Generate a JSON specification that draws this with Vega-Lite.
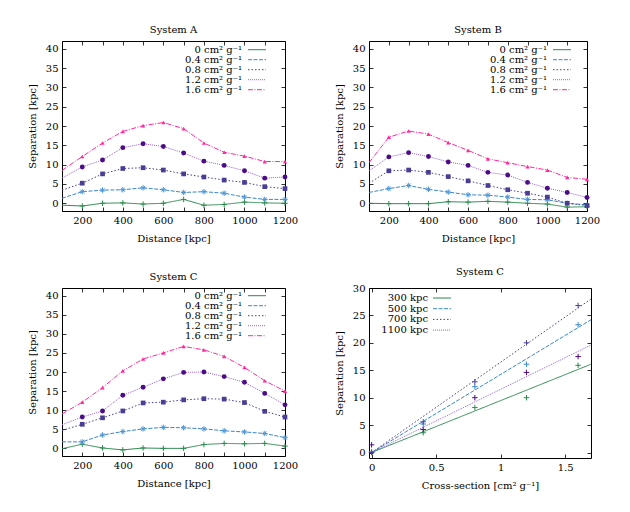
{
  "$schema": "https://vega.github.io/schema/vega-lite/v6.json",
  "padding": {"left": 26, "top": 24, "right": 5, "bottom": 5},
  "background": "white",
  "datasets": {
    "dist": [
      {"sys": "A", "cs": "0 cm² g⁻¹", "d": 100, "sep": -0.5},
      {"sys": "A", "cs": "0 cm² g⁻¹", "d": 200, "sep": -0.7},
      {"sys": "A", "cs": "0 cm² g⁻¹", "d": 300, "sep": 0.0},
      {"sys": "A", "cs": "0 cm² g⁻¹", "d": 400, "sep": 0.1},
      {"sys": "A", "cs": "0 cm² g⁻¹", "d": 500, "sep": -0.2},
      {"sys": "A", "cs": "0 cm² g⁻¹", "d": 600, "sep": 0.0},
      {"sys": "A", "cs": "0 cm² g⁻¹", "d": 700, "sep": 1.0},
      {"sys": "A", "cs": "0 cm² g⁻¹", "d": 800, "sep": -0.5},
      {"sys": "A", "cs": "0 cm² g⁻¹", "d": 900, "sep": -0.3},
      {"sys": "A", "cs": "0 cm² g⁻¹", "d": 1000, "sep": 0.3},
      {"sys": "A", "cs": "0 cm² g⁻¹", "d": 1100, "sep": 0.1},
      {"sys": "A", "cs": "0 cm² g⁻¹", "d": 1200, "sep": 0.0},
      {"sys": "A", "cs": "0.4 cm² g⁻¹", "d": 100, "sep": 1.3},
      {"sys": "A", "cs": "0.4 cm² g⁻¹", "d": 200, "sep": 3.0},
      {"sys": "A", "cs": "0.4 cm² g⁻¹", "d": 300, "sep": 3.4},
      {"sys": "A", "cs": "0.4 cm² g⁻¹", "d": 400, "sep": 3.5},
      {"sys": "A", "cs": "0.4 cm² g⁻¹", "d": 500, "sep": 4.0},
      {"sys": "A", "cs": "0.4 cm² g⁻¹", "d": 600, "sep": 3.5},
      {"sys": "A", "cs": "0.4 cm² g⁻¹", "d": 700, "sep": 2.8},
      {"sys": "A", "cs": "0.4 cm² g⁻¹", "d": 800, "sep": 3.0},
      {"sys": "A", "cs": "0.4 cm² g⁻¹", "d": 900, "sep": 2.6},
      {"sys": "A", "cs": "0.4 cm² g⁻¹", "d": 1000, "sep": 1.6},
      {"sys": "A", "cs": "0.4 cm² g⁻¹", "d": 1100, "sep": 1.0},
      {"sys": "A", "cs": "0.4 cm² g⁻¹", "d": 1200, "sep": 1.0},
      {"sys": "A", "cs": "0.8 cm² g⁻¹", "d": 100, "sep": 3.4},
      {"sys": "A", "cs": "0.8 cm² g⁻¹", "d": 200, "sep": 5.2},
      {"sys": "A", "cs": "0.8 cm² g⁻¹", "d": 300, "sep": 7.6},
      {"sys": "A", "cs": "0.8 cm² g⁻¹", "d": 400, "sep": 9.0},
      {"sys": "A", "cs": "0.8 cm² g⁻¹", "d": 500, "sep": 9.2},
      {"sys": "A", "cs": "0.8 cm² g⁻¹", "d": 600, "sep": 8.6},
      {"sys": "A", "cs": "0.8 cm² g⁻¹", "d": 700, "sep": 7.6},
      {"sys": "A", "cs": "0.8 cm² g⁻¹", "d": 800, "sep": 6.8},
      {"sys": "A", "cs": "0.8 cm² g⁻¹", "d": 900, "sep": 6.0},
      {"sys": "A", "cs": "0.8 cm² g⁻¹", "d": 1000, "sep": 5.4},
      {"sys": "A", "cs": "0.8 cm² g⁻¹", "d": 1100, "sep": 4.3},
      {"sys": "A", "cs": "0.8 cm² g⁻¹", "d": 1200, "sep": 3.8},
      {"sys": "A", "cs": "1.2 cm² g⁻¹", "d": 100, "sep": 6.5},
      {"sys": "A", "cs": "1.2 cm² g⁻¹", "d": 200, "sep": 9.4},
      {"sys": "A", "cs": "1.2 cm² g⁻¹", "d": 300, "sep": 11.2},
      {"sys": "A", "cs": "1.2 cm² g⁻¹", "d": 400, "sep": 14.4},
      {"sys": "A", "cs": "1.2 cm² g⁻¹", "d": 500, "sep": 15.4},
      {"sys": "A", "cs": "1.2 cm² g⁻¹", "d": 600, "sep": 14.7},
      {"sys": "A", "cs": "1.2 cm² g⁻¹", "d": 700, "sep": 13.0},
      {"sys": "A", "cs": "1.2 cm² g⁻¹", "d": 800, "sep": 10.9},
      {"sys": "A", "cs": "1.2 cm² g⁻¹", "d": 900, "sep": 9.8},
      {"sys": "A", "cs": "1.2 cm² g⁻¹", "d": 1000, "sep": 8.4},
      {"sys": "A", "cs": "1.2 cm² g⁻¹", "d": 1100, "sep": 6.5},
      {"sys": "A", "cs": "1.2 cm² g⁻¹", "d": 1200, "sep": 6.8},
      {"sys": "A", "cs": "1.6 cm² g⁻¹", "d": 100, "sep": 8.5},
      {"sys": "A", "cs": "1.6 cm² g⁻¹", "d": 200, "sep": 12.1},
      {"sys": "A", "cs": "1.6 cm² g⁻¹", "d": 300, "sep": 15.6},
      {"sys": "A", "cs": "1.6 cm² g⁻¹", "d": 400, "sep": 18.6},
      {"sys": "A", "cs": "1.6 cm² g⁻¹", "d": 500, "sep": 20.1},
      {"sys": "A", "cs": "1.6 cm² g⁻¹", "d": 600, "sep": 20.9},
      {"sys": "A", "cs": "1.6 cm² g⁻¹", "d": 700, "sep": 19.3},
      {"sys": "A", "cs": "1.6 cm² g⁻¹", "d": 800, "sep": 15.6},
      {"sys": "A", "cs": "1.6 cm² g⁻¹", "d": 900, "sep": 13.2},
      {"sys": "A", "cs": "1.6 cm² g⁻¹", "d": 1000, "sep": 12.2},
      {"sys": "A", "cs": "1.6 cm² g⁻¹", "d": 1100, "sep": 10.8},
      {"sys": "A", "cs": "1.6 cm² g⁻¹", "d": 1200, "sep": 10.8},

      {"sys": "B", "cs": "0 cm² g⁻¹", "d": 100, "sep": 0.0},
      {"sys": "B", "cs": "0 cm² g⁻¹", "d": 200, "sep": -0.1},
      {"sys": "B", "cs": "0 cm² g⁻¹", "d": 300, "sep": -0.1},
      {"sys": "B", "cs": "0 cm² g⁻¹", "d": 400, "sep": -0.1},
      {"sys": "B", "cs": "0 cm² g⁻¹", "d": 500, "sep": 0.4},
      {"sys": "B", "cs": "0 cm² g⁻¹", "d": 600, "sep": 0.3},
      {"sys": "B", "cs": "0 cm² g⁻¹", "d": 700, "sep": 0.5},
      {"sys": "B", "cs": "0 cm² g⁻¹", "d": 800, "sep": 0.3},
      {"sys": "B", "cs": "0 cm² g⁻¹", "d": 900, "sep": 0.0},
      {"sys": "B", "cs": "0 cm² g⁻¹", "d": 1000, "sep": -0.2},
      {"sys": "B", "cs": "0 cm² g⁻¹", "d": 1100, "sep": -1.0},
      {"sys": "B", "cs": "0 cm² g⁻¹", "d": 1200, "sep": -0.9},
      {"sys": "B", "cs": "0.4 cm² g⁻¹", "d": 100, "sep": 2.8},
      {"sys": "B", "cs": "0.4 cm² g⁻¹", "d": 200, "sep": 3.8},
      {"sys": "B", "cs": "0.4 cm² g⁻¹", "d": 300, "sep": 4.6},
      {"sys": "B", "cs": "0.4 cm² g⁻¹", "d": 400, "sep": 3.6},
      {"sys": "B", "cs": "0.4 cm² g⁻¹", "d": 500, "sep": 2.9},
      {"sys": "B", "cs": "0.4 cm² g⁻¹", "d": 600, "sep": 2.2},
      {"sys": "B", "cs": "0.4 cm² g⁻¹", "d": 700, "sep": 2.1},
      {"sys": "B", "cs": "0.4 cm² g⁻¹", "d": 800, "sep": 1.6},
      {"sys": "B", "cs": "0.4 cm² g⁻¹", "d": 900, "sep": 1.0},
      {"sys": "B", "cs": "0.4 cm² g⁻¹", "d": 1000, "sep": 0.9},
      {"sys": "B", "cs": "0.4 cm² g⁻¹", "d": 1100, "sep": 0.0},
      {"sys": "B", "cs": "0.4 cm² g⁻¹", "d": 1200, "sep": -0.4},
      {"sys": "B", "cs": "0.8 cm² g⁻¹", "d": 100, "sep": 5.2},
      {"sys": "B", "cs": "0.8 cm² g⁻¹", "d": 200, "sep": 8.4},
      {"sys": "B", "cs": "0.8 cm² g⁻¹", "d": 300, "sep": 8.6},
      {"sys": "B", "cs": "0.8 cm² g⁻¹", "d": 400, "sep": 8.0},
      {"sys": "B", "cs": "0.8 cm² g⁻¹", "d": 500, "sep": 6.9},
      {"sys": "B", "cs": "0.8 cm² g⁻¹", "d": 600, "sep": 5.8},
      {"sys": "B", "cs": "0.8 cm² g⁻¹", "d": 700, "sep": 4.6},
      {"sys": "B", "cs": "0.8 cm² g⁻¹", "d": 800, "sep": 3.5},
      {"sys": "B", "cs": "0.8 cm² g⁻¹", "d": 900, "sep": 2.6},
      {"sys": "B", "cs": "0.8 cm² g⁻¹", "d": 1000, "sep": 1.6},
      {"sys": "B", "cs": "0.8 cm² g⁻¹", "d": 1100, "sep": 0.0},
      {"sys": "B", "cs": "0.8 cm² g⁻¹", "d": 1200, "sep": -0.6},
      {"sys": "B", "cs": "1.2 cm² g⁻¹", "d": 100, "sep": 8.4},
      {"sys": "B", "cs": "1.2 cm² g⁻¹", "d": 200, "sep": 12.0},
      {"sys": "B", "cs": "1.2 cm² g⁻¹", "d": 300, "sep": 13.1},
      {"sys": "B", "cs": "1.2 cm² g⁻¹", "d": 400, "sep": 12.1},
      {"sys": "B", "cs": "1.2 cm² g⁻¹", "d": 500, "sep": 10.7},
      {"sys": "B", "cs": "1.2 cm² g⁻¹", "d": 600, "sep": 9.8},
      {"sys": "B", "cs": "1.2 cm² g⁻¹", "d": 700, "sep": 8.0},
      {"sys": "B", "cs": "1.2 cm² g⁻¹", "d": 800, "sep": 7.3},
      {"sys": "B", "cs": "1.2 cm² g⁻¹", "d": 900, "sep": 5.4},
      {"sys": "B", "cs": "1.2 cm² g⁻¹", "d": 1000, "sep": 3.9},
      {"sys": "B", "cs": "1.2 cm² g⁻¹", "d": 1100, "sep": 2.8},
      {"sys": "B", "cs": "1.2 cm² g⁻¹", "d": 1200, "sep": 1.5},
      {"sys": "B", "cs": "1.6 cm² g⁻¹", "d": 100, "sep": 10.5},
      {"sys": "B", "cs": "1.6 cm² g⁻¹", "d": 200, "sep": 17.1},
      {"sys": "B", "cs": "1.6 cm² g⁻¹", "d": 300, "sep": 18.7},
      {"sys": "B", "cs": "1.6 cm² g⁻¹", "d": 400, "sep": 17.9},
      {"sys": "B", "cs": "1.6 cm² g⁻¹", "d": 500, "sep": 15.7},
      {"sys": "B", "cs": "1.6 cm² g⁻¹", "d": 600, "sep": 13.7},
      {"sys": "B", "cs": "1.6 cm² g⁻¹", "d": 700, "sep": 11.5},
      {"sys": "B", "cs": "1.6 cm² g⁻¹", "d": 800, "sep": 10.5},
      {"sys": "B", "cs": "1.6 cm² g⁻¹", "d": 900, "sep": 9.5},
      {"sys": "B", "cs": "1.6 cm² g⁻¹", "d": 1000, "sep": 8.6},
      {"sys": "B", "cs": "1.6 cm² g⁻¹", "d": 1100, "sep": 6.7},
      {"sys": "B", "cs": "1.6 cm² g⁻¹", "d": 1200, "sep": 6.2},

      {"sys": "C", "cs": "0 cm² g⁻¹", "d": 100, "sep": -0.1},
      {"sys": "C", "cs": "0 cm² g⁻¹", "d": 200, "sep": 1.1},
      {"sys": "C", "cs": "0 cm² g⁻¹", "d": 300, "sep": 0.1},
      {"sys": "C", "cs": "0 cm² g⁻¹", "d": 400, "sep": -0.4},
      {"sys": "C", "cs": "0 cm² g⁻¹", "d": 500, "sep": 0.1},
      {"sys": "C", "cs": "0 cm² g⁻¹", "d": 600, "sep": 0.0},
      {"sys": "C", "cs": "0 cm² g⁻¹", "d": 700, "sep": 0.0},
      {"sys": "C", "cs": "0 cm² g⁻¹", "d": 800, "sep": 1.0},
      {"sys": "C", "cs": "0 cm² g⁻¹", "d": 900, "sep": 1.3},
      {"sys": "C", "cs": "0 cm² g⁻¹", "d": 1000, "sep": 1.2},
      {"sys": "C", "cs": "0 cm² g⁻¹", "d": 1100, "sep": 1.3},
      {"sys": "C", "cs": "0 cm² g⁻¹", "d": 1200, "sep": 0.6},
      {"sys": "C", "cs": "0.4 cm² g⁻¹", "d": 100, "sep": 1.7},
      {"sys": "C", "cs": "0.4 cm² g⁻¹", "d": 200, "sep": 1.7},
      {"sys": "C", "cs": "0.4 cm² g⁻¹", "d": 300, "sep": 3.5},
      {"sys": "C", "cs": "0.4 cm² g⁻¹", "d": 400, "sep": 4.4},
      {"sys": "C", "cs": "0.4 cm² g⁻¹", "d": 500, "sep": 5.1},
      {"sys": "C", "cs": "0.4 cm² g⁻¹", "d": 600, "sep": 5.5},
      {"sys": "C", "cs": "0.4 cm² g⁻¹", "d": 700, "sep": 5.4},
      {"sys": "C", "cs": "0.4 cm² g⁻¹", "d": 800, "sep": 5.1},
      {"sys": "C", "cs": "0.4 cm² g⁻¹", "d": 900, "sep": 4.6},
      {"sys": "C", "cs": "0.4 cm² g⁻¹", "d": 1000, "sep": 4.3},
      {"sys": "C", "cs": "0.4 cm² g⁻¹", "d": 1100, "sep": 3.9},
      {"sys": "C", "cs": "0.4 cm² g⁻¹", "d": 1200, "sep": 2.8},
      {"sys": "C", "cs": "0.8 cm² g⁻¹", "d": 100, "sep": 4.7},
      {"sys": "C", "cs": "0.8 cm² g⁻¹", "d": 200, "sep": 6.3},
      {"sys": "C", "cs": "0.8 cm² g⁻¹", "d": 300, "sep": 8.0},
      {"sys": "C", "cs": "0.8 cm² g⁻¹", "d": 400, "sep": 9.8},
      {"sys": "C", "cs": "0.8 cm² g⁻¹", "d": 500, "sep": 11.9},
      {"sys": "C", "cs": "0.8 cm² g⁻¹", "d": 600, "sep": 12.1},
      {"sys": "C", "cs": "0.8 cm² g⁻¹", "d": 700, "sep": 12.7},
      {"sys": "C", "cs": "0.8 cm² g⁻¹", "d": 800, "sep": 13.0},
      {"sys": "C", "cs": "0.8 cm² g⁻¹", "d": 900, "sep": 12.9},
      {"sys": "C", "cs": "0.8 cm² g⁻¹", "d": 1000, "sep": 12.0},
      {"sys": "C", "cs": "0.8 cm² g⁻¹", "d": 1100, "sep": 9.7},
      {"sys": "C", "cs": "0.8 cm² g⁻¹", "d": 1200, "sep": 8.2},
      {"sys": "C", "cs": "1.2 cm² g⁻¹", "d": 100, "sep": 6.2},
      {"sys": "C", "cs": "1.2 cm² g⁻¹", "d": 200, "sep": 8.2},
      {"sys": "C", "cs": "1.2 cm² g⁻¹", "d": 300, "sep": 9.8},
      {"sys": "C", "cs": "1.2 cm² g⁻¹", "d": 400, "sep": 13.9},
      {"sys": "C", "cs": "1.2 cm² g⁻¹", "d": 500, "sep": 16.0},
      {"sys": "C", "cs": "1.2 cm² g⁻¹", "d": 600, "sep": 18.2},
      {"sys": "C", "cs": "1.2 cm² g⁻¹", "d": 700, "sep": 19.9},
      {"sys": "C", "cs": "1.2 cm² g⁻¹", "d": 800, "sep": 20.0},
      {"sys": "C", "cs": "1.2 cm² g⁻¹", "d": 900, "sep": 18.8},
      {"sys": "C", "cs": "1.2 cm² g⁻¹", "d": 1000, "sep": 17.3},
      {"sys": "C", "cs": "1.2 cm² g⁻¹", "d": 1100, "sep": 14.4},
      {"sys": "C", "cs": "1.2 cm² g⁻¹", "d": 1200, "sep": 11.4},
      {"sys": "C", "cs": "1.6 cm² g⁻¹", "d": 100, "sep": 9.0},
      {"sys": "C", "cs": "1.6 cm² g⁻¹", "d": 200, "sep": 12.1},
      {"sys": "C", "cs": "1.6 cm² g⁻¹", "d": 300, "sep": 15.9},
      {"sys": "C", "cs": "1.6 cm² g⁻¹", "d": 400, "sep": 20.3},
      {"sys": "C", "cs": "1.6 cm² g⁻¹", "d": 500, "sep": 23.4},
      {"sys": "C", "cs": "1.6 cm² g⁻¹", "d": 600, "sep": 25.0},
      {"sys": "C", "cs": "1.6 cm² g⁻¹", "d": 700, "sep": 26.7},
      {"sys": "C", "cs": "1.6 cm² g⁻¹", "d": 800, "sep": 25.8},
      {"sys": "C", "cs": "1.6 cm² g⁻¹", "d": 900, "sep": 24.1},
      {"sys": "C", "cs": "1.6 cm² g⁻¹", "d": 1000, "sep": 21.2},
      {"sys": "C", "cs": "1.6 cm² g⁻¹", "d": 1100, "sep": 17.7},
      {"sys": "C", "cs": "1.6 cm² g⁻¹", "d": 1200, "sep": 15.0}
    ],
    "xsec": [
      {"dist": "300 kpc", "x": 0.0, "sep": 0.1},
      {"dist": "300 kpc", "x": 0.4, "sep": 3.6},
      {"dist": "300 kpc", "x": 0.8, "sep": 8.2},
      {"dist": "300 kpc", "x": 1.2, "sep": 10.0},
      {"dist": "300 kpc", "x": 1.6, "sep": 15.9},
      {"dist": "500 kpc", "x": 0.0, "sep": 0.1},
      {"dist": "500 kpc", "x": 0.4, "sep": 5.2},
      {"dist": "500 kpc", "x": 0.8, "sep": 12.0},
      {"dist": "500 kpc", "x": 1.2, "sep": 16.1},
      {"dist": "500 kpc", "x": 1.6, "sep": 23.3},
      {"dist": "700 kpc", "x": 0.0, "sep": 0.0},
      {"dist": "700 kpc", "x": 0.4, "sep": 5.6},
      {"dist": "700 kpc", "x": 0.8, "sep": 12.9},
      {"dist": "700 kpc", "x": 1.2, "sep": 20.0},
      {"dist": "700 kpc", "x": 1.6, "sep": 26.8},
      {"dist": "1100 kpc", "x": 0.0, "sep": 1.4},
      {"dist": "1100 kpc", "x": 0.4, "sep": 4.2},
      {"dist": "1100 kpc", "x": 0.8, "sep": 10.0},
      {"dist": "1100 kpc", "x": 1.2, "sep": 14.6},
      {"dist": "1100 kpc", "x": 1.6, "sep": 17.5}
    ],
    "fits": [
      {"dist": "300 kpc", "x": 0.0, "sep": 0.0},
      {"dist": "300 kpc", "x": 1.7, "sep": 16.1},
      {"dist": "500 kpc", "x": 0.0, "sep": 0.0},
      {"dist": "500 kpc", "x": 1.7, "sep": 24.2},
      {"dist": "700 kpc", "x": 0.0, "sep": 0.0},
      {"dist": "700 kpc", "x": 1.7, "sep": 28.0},
      {"dist": "1100 kpc", "x": 0.0, "sep": 0.0},
      {"dist": "1100 kpc", "x": 1.7, "sep": 19.6}
    ]
  },
  "columns": 2,
  "spacing": {"row": 77, "column": 84},
  "bounds": "flush",
  "concat": [
    {
      "width": 223, "height": 170,
      "title": "System A",
      "data": {"name": "dist"},
      "transform": [{"filter": "datum.sys === 'A'"}],
      "layer": [
        {
          "mark": {"type": "line", "strokeWidth": 1, "clip": true},
          "encoding": {
            "x": {"field": "d", "type": "quantitative", "scale": {"domain": [100, 1200], "nice": false},
              "axis": {"orient": "bottom", "title": "Distance [kpc]", "format": "d", "values": [100, 200, 300, 400, 500, 600, 700, 800, 900, 1000, 1100, 1200], "labelExpr": "datum.value % 200 === 0 ? datum.label : ''"}},
            "y": {"field": "sep", "type": "quantitative", "scale": {"domain": [-2, 42], "nice": false, "zero": false},
              "axis": {"orient": "left", "title": "Separation [kpc]", "values": [0, 5, 10, 15, 20, 25, 30, 35, 40]}},
            "stroke": {"field": "cs", "type": "nominal", "title": null,
              "scale": {"domain": ["0 cm² g⁻¹", "0.4 cm² g⁻¹", "0.8 cm² g⁻¹", "1.2 cm² g⁻¹", "1.6 cm² g⁻¹"], "range": ["#2b8a4e", "#3b88c8", "#4d3d96", "#9a62d0", "#ff2a9c"]},
              "legend": {"orient": "none", "legendX": 190, "legendY": 3.7}},
            "strokeDash": {"field": "cs", "type": "nominal", "title": null,
              "scale": {"domain": ["0 cm² g⁻¹", "0.4 cm² g⁻¹", "0.8 cm² g⁻¹", "1.2 cm² g⁻¹", "1.6 cm² g⁻¹"], "range": [[1, 0], [4, 1.5], [1.5, 2], [1, 1], [5, 1.5, 1, 1.5]]},
              "legend": {"orient": "none", "legendX": 190, "legendY": 3.7}}
          }
        },
        {
          "transform": [{"filter": "datum.d > 100 && datum.cs === '0 cm² g⁻¹'"}],
          "mark": {"type": "point", "shape": "M-1,0H1M0,-1V1", "filled": false, "color": "#2b8a4e", "size": 30, "strokeWidth": 1, "opacity": 1},
          "encoding": {
            "x": {"field": "d", "type": "quantitative", "scale": {"domain": [100, 1200], "nice": false}, "axis": {"orient": "top", "title": null, "labels": false, "values": [100, 200, 300, 400, 500, 600, 700, 800, 900, 1000, 1100, 1200]}},
            "y": {"field": "sep", "type": "quantitative", "scale": {"domain": [-2, 42], "nice": false, "zero": false}, "axis": {"orient": "right", "title": null, "labels": false, "values": [0, 5, 10, 15, 20, 25, 30, 35, 40]}}
          }
        },
        {
          "transform": [{"filter": "datum.d > 100 && datum.cs === '0.4 cm² g⁻¹'"}],
          "mark": {"type": "point", "shape": "M-1,0H1M0,-1V1M-0.7,-0.7L0.7,0.7M-0.7,0.7L0.7,-0.7", "filled": false, "color": "#4f98d6", "size": 30, "strokeWidth": 1, "opacity": 1},
          "encoding": {"x": {"field": "d", "type": "quantitative", "axis": null}, "y": {"field": "sep", "type": "quantitative", "axis": null}}
        },
        {
          "transform": [{"filter": "datum.d > 100 && datum.cs === '0.8 cm² g⁻¹'"}],
          "mark": {"type": "point", "shape": "square", "filled": true, "color": "#4a3d94", "size": 22, "opacity": 1},
          "encoding": {"x": {"field": "d", "type": "quantitative", "axis": null}, "y": {"field": "sep", "type": "quantitative", "axis": null}}
        },
        {
          "transform": [{"filter": "datum.d > 100 && datum.cs === '1.2 cm² g⁻¹'"}],
          "mark": {"type": "point", "shape": "circle", "filled": true, "color": "#4b0c86", "size": 24, "opacity": 1},
          "encoding": {"x": {"field": "d", "type": "quantitative", "axis": null}, "y": {"field": "sep", "type": "quantitative", "axis": null}}
        },
        {
          "transform": [{"filter": "datum.d > 100 && datum.cs === '1.6 cm² g⁻¹'"}],
          "mark": {"type": "point", "shape": "triangle-up", "filled": true, "color": "#ff2a9c", "size": 18, "opacity": 1},
          "encoding": {"x": {"field": "d", "type": "quantitative", "axis": null}, "y": {"field": "sep", "type": "quantitative", "axis": null}}
        }
      ],
      "resolve": {"axis": {"x": "independent", "y": "independent"}}
    },
    {
      "width": 218, "height": 170,
      "title": "System B",
      "data": {"name": "dist"},
      "transform": [{"filter": "datum.sys === 'B'"}],
      "layer": [
        {
          "mark": {"type": "line", "strokeWidth": 1, "clip": true},
          "encoding": {
            "x": {"field": "d", "type": "quantitative", "scale": {"domain": [100, 1200], "nice": false},
              "axis": {"orient": "bottom", "title": "Distance [kpc]", "format": "d", "values": [100, 200, 300, 400, 500, 600, 700, 800, 900, 1000, 1100, 1200], "labelExpr": "datum.value % 200 === 0 ? datum.label : ''"}},
            "y": {"field": "sep", "type": "quantitative", "scale": {"domain": [-2, 42], "nice": false, "zero": false},
              "axis": {"orient": "left", "title": "Separation [kpc]", "values": [0, 5, 10, 15, 20, 25, 30, 35, 40]}},
            "stroke": {"field": "cs", "type": "nominal", "title": null,
              "scale": {"domain": ["0 cm² g⁻¹", "0.4 cm² g⁻¹", "0.8 cm² g⁻¹", "1.2 cm² g⁻¹", "1.6 cm² g⁻¹"], "range": ["#2b8a4e", "#3b88c8", "#4d3d96", "#9a62d0", "#ff2a9c"]},
              "legend": {"orient": "none", "legendX": 188, "legendY": 3.7}},
            "strokeDash": {"field": "cs", "type": "nominal", "title": null,
              "scale": {"domain": ["0 cm² g⁻¹", "0.4 cm² g⁻¹", "0.8 cm² g⁻¹", "1.2 cm² g⁻¹", "1.6 cm² g⁻¹"], "range": [[1, 0], [4, 1.5], [1.5, 2], [1, 1], [5, 1.5, 1, 1.5]]},
              "legend": {"orient": "none", "legendX": 188, "legendY": 3.7}}
          }
        },
        {
          "transform": [{"filter": "datum.d > 100 && datum.cs === '0 cm² g⁻¹'"}],
          "mark": {"type": "point", "shape": "M-1,0H1M0,-1V1", "filled": false, "color": "#2b8a4e", "size": 30, "strokeWidth": 1, "opacity": 1},
          "encoding": {
            "x": {"field": "d", "type": "quantitative", "scale": {"domain": [100, 1200], "nice": false}, "axis": {"orient": "top", "title": null, "labels": false, "values": [100, 200, 300, 400, 500, 600, 700, 800, 900, 1000, 1100, 1200]}},
            "y": {"field": "sep", "type": "quantitative", "scale": {"domain": [-2, 42], "nice": false, "zero": false}, "axis": {"orient": "right", "title": null, "labels": false, "values": [0, 5, 10, 15, 20, 25, 30, 35, 40]}}
          }
        },
        {
          "transform": [{"filter": "datum.d > 100 && datum.cs === '0.4 cm² g⁻¹'"}],
          "mark": {"type": "point", "shape": "M-1,0H1M0,-1V1M-0.7,-0.7L0.7,0.7M-0.7,0.7L0.7,-0.7", "filled": false, "color": "#4f98d6", "size": 30, "strokeWidth": 1, "opacity": 1},
          "encoding": {"x": {"field": "d", "type": "quantitative", "axis": null}, "y": {"field": "sep", "type": "quantitative", "axis": null}}
        },
        {
          "transform": [{"filter": "datum.d > 100 && datum.cs === '0.8 cm² g⁻¹'"}],
          "mark": {"type": "point", "shape": "square", "filled": true, "color": "#4a3d94", "size": 22, "opacity": 1},
          "encoding": {"x": {"field": "d", "type": "quantitative", "axis": null}, "y": {"field": "sep", "type": "quantitative", "axis": null}}
        },
        {
          "transform": [{"filter": "datum.d > 100 && datum.cs === '1.2 cm² g⁻¹'"}],
          "mark": {"type": "point", "shape": "circle", "filled": true, "color": "#4b0c86", "size": 24, "opacity": 1},
          "encoding": {"x": {"field": "d", "type": "quantitative", "axis": null}, "y": {"field": "sep", "type": "quantitative", "axis": null}}
        },
        {
          "transform": [{"filter": "datum.d > 100 && datum.cs === '1.6 cm² g⁻¹'"}],
          "mark": {"type": "point", "shape": "triangle-up", "filled": true, "color": "#ff2a9c", "size": 18, "opacity": 1},
          "encoding": {"x": {"field": "d", "type": "quantitative", "axis": null}, "y": {"field": "sep", "type": "quantitative", "axis": null}}
        }
      ],
      "resolve": {"axis": {"x": "independent", "y": "independent"}}
    },
    {
      "width": 223, "height": 168,
      "title": "System C",
      "data": {"name": "dist"},
      "transform": [{"filter": "datum.sys === 'C'"}],
      "layer": [
        {
          "mark": {"type": "line", "strokeWidth": 1, "clip": true},
          "encoding": {
            "x": {"field": "d", "type": "quantitative", "scale": {"domain": [100, 1200], "nice": false},
              "axis": {"orient": "bottom", "title": "Distance [kpc]", "format": "d", "values": [100, 200, 300, 400, 500, 600, 700, 800, 900, 1000, 1100, 1200], "labelExpr": "datum.value % 200 === 0 ? datum.label : ''"}},
            "y": {"field": "sep", "type": "quantitative", "scale": {"domain": [-2, 42], "nice": false, "zero": false},
              "axis": {"orient": "left", "title": "Separation [kpc]", "values": [0, 5, 10, 15, 20, 25, 30, 35, 40]}},
            "stroke": {"field": "cs", "type": "nominal", "title": null,
              "scale": {"domain": ["0 cm² g⁻¹", "0.4 cm² g⁻¹", "0.8 cm² g⁻¹", "1.2 cm² g⁻¹", "1.6 cm² g⁻¹"], "range": ["#2b8a4e", "#3b88c8", "#4d3d96", "#9a62d0", "#ff2a9c"]},
              "legend": {"orient": "none", "legendX": 190, "legendY": 2.7}},
            "strokeDash": {"field": "cs", "type": "nominal", "title": null,
              "scale": {"domain": ["0 cm² g⁻¹", "0.4 cm² g⁻¹", "0.8 cm² g⁻¹", "1.2 cm² g⁻¹", "1.6 cm² g⁻¹"], "range": [[1, 0], [4, 1.5], [1.5, 2], [1, 1], [5, 1.5, 1, 1.5]]},
              "legend": {"orient": "none", "legendX": 190, "legendY": 2.7}}
          }
        },
        {
          "transform": [{"filter": "datum.d > 100 && datum.cs === '0 cm² g⁻¹'"}],
          "mark": {"type": "point", "shape": "M-1,0H1M0,-1V1", "filled": false, "color": "#2b8a4e", "size": 30, "strokeWidth": 1, "opacity": 1},
          "encoding": {
            "x": {"field": "d", "type": "quantitative", "scale": {"domain": [100, 1200], "nice": false}, "axis": {"orient": "top", "title": null, "labels": false, "values": [100, 200, 300, 400, 500, 600, 700, 800, 900, 1000, 1100, 1200]}},
            "y": {"field": "sep", "type": "quantitative", "scale": {"domain": [-2, 42], "nice": false, "zero": false}, "axis": {"orient": "right", "title": null, "labels": false, "values": [0, 5, 10, 15, 20, 25, 30, 35, 40]}}
          }
        },
        {
          "transform": [{"filter": "datum.d > 100 && datum.cs === '0.4 cm² g⁻¹'"}],
          "mark": {"type": "point", "shape": "M-1,0H1M0,-1V1M-0.7,-0.7L0.7,0.7M-0.7,0.7L0.7,-0.7", "filled": false, "color": "#4f98d6", "size": 30, "strokeWidth": 1, "opacity": 1},
          "encoding": {"x": {"field": "d", "type": "quantitative", "axis": null}, "y": {"field": "sep", "type": "quantitative", "axis": null}}
        },
        {
          "transform": [{"filter": "datum.d > 100 && datum.cs === '0.8 cm² g⁻¹'"}],
          "mark": {"type": "point", "shape": "square", "filled": true, "color": "#4a3d94", "size": 22, "opacity": 1},
          "encoding": {"x": {"field": "d", "type": "quantitative", "axis": null}, "y": {"field": "sep", "type": "quantitative", "axis": null}}
        },
        {
          "transform": [{"filter": "datum.d > 100 && datum.cs === '1.2 cm² g⁻¹'"}],
          "mark": {"type": "point", "shape": "circle", "filled": true, "color": "#4b0c86", "size": 24, "opacity": 1},
          "encoding": {"x": {"field": "d", "type": "quantitative", "axis": null}, "y": {"field": "sep", "type": "quantitative", "axis": null}}
        },
        {
          "transform": [{"filter": "datum.d > 100 && datum.cs === '1.6 cm² g⁻¹'"}],
          "mark": {"type": "point", "shape": "triangle-up", "filled": true, "color": "#ff2a9c", "size": 18, "opacity": 1},
          "encoding": {"x": {"field": "d", "type": "quantitative", "axis": null}, "y": {"field": "sep", "type": "quantitative", "axis": null}}
        }
      ],
      "resolve": {"axis": {"x": "independent", "y": "independent"}}
    },
    {
      "width": 222, "height": 170,
      "title": "System C",
      "layer": [
        {
          "data": {"name": "fits"},
          "mark": {"type": "line", "strokeWidth": 1, "clip": true},
          "encoding": {
            "x": {"field": "x", "type": "quantitative", "scale": {"domain": [-0.02, 1.7], "nice": false, "zero": false},
              "axis": {"orient": "bottom", "title": "Cross-section [cm² g⁻¹]", "values": [0, 0.5, 1, 1.5], "format": "~g"}},
            "y": {"field": "sep", "type": "quantitative", "scale": {"domain": [-1, 30], "nice": false, "zero": false},
              "axis": {"orient": "left", "title": "Separation [kpc]", "values": [0, 5, 10, 15, 20, 25, 30]}},
            "stroke": {"field": "dist", "type": "nominal", "title": null,
              "scale": {"domain": ["300 kpc", "500 kpc", "700 kpc", "1100 kpc"], "range": ["#2b8a4e", "#3b88c8", "#4d3d96", "#9a62d0"]},
              "legend": {"orient": "none", "legendX": 68, "legendY": 5, "labelOffset": -19, "rowPadding": 0.7}},
            "strokeDash": {"field": "dist", "type": "nominal", "title": null,
              "scale": {"domain": ["300 kpc", "500 kpc", "700 kpc", "1100 kpc"], "range": [[1, 0], [4, 1.5], [1.5, 2], [1, 1]]},
              "legend": {"orient": "none", "legendX": 68, "legendY": 5, "labelOffset": -19, "rowPadding": 0.7}}
          }
        },
        {
          "data": {"name": "xsec"},
          "mark": {"type": "point", "filled": false, "size": 30, "strokeWidth": 1, "opacity": 1, "shape": "M-1,0H1M0,-1V1"},
          "encoding": {
            "x": {"field": "x", "type": "quantitative", "scale": {"domain": [-0.02, 1.7], "nice": false, "zero": false}, "axis": {"orient": "top", "title": null, "labels": false, "values": [0, 0.5, 1, 1.5]}},
            "y": {"field": "sep", "type": "quantitative", "scale": {"domain": [-1, 30], "nice": false, "zero": false}, "axis": {"orient": "right", "title": null, "labels": false, "values": [0, 5, 10, 15, 20, 25, 30]}},
            "color": {"field": "dist", "type": "nominal", "legend": null,
              "scale": {"domain": ["300 kpc", "500 kpc", "700 kpc", "1100 kpc"], "range": ["#2b8a4e", "#3b88c8", "#4d3d96", "#4b0c86"]}}
          }
        }
      ],
      "resolve": {"axis": {"x": "independent", "y": "independent"}}
    }
  ],
  "resolve": {
    "scale": {"x": "independent", "y": "independent", "stroke": "independent", "strokeDash": "independent", "color": "independent"},
    "legend": {"stroke": "independent", "strokeDash": "independent", "color": "independent"}
  },
  "config": {
    "font": "DejaVu Serif",
    "view": {"stroke": "black", "strokeWidth": 1},
    "title": {"font": "DejaVu Serif", "fontSize": 10, "fontWeight": "normal", "color": "black", "offset": 6},
    "axis": {
      "grid": false, "domain": false, "labelFlush": false,
      "tickColor": "black", "tickSize": -4, "tickWidth": 0.8,
      "labelFont": "DejaVu Serif", "labelFontSize": 10, "labelColor": "black", "labelPadding": 8,
      "titleFont": "DejaVu Serif", "titleFontSize": 10, "titleFontWeight": "normal", "titleColor": "black", "titlePadding": 8
    },
    "legend": {
      "symbolType": "M-3,0H3", "symbolSize": 36, "symbolStrokeWidth": 1,
      "labelFont": "DejaVu Serif", "labelFontSize": 10, "labelColor": "black",
      "labelAlign": "right", "labelOffset": -20, "rowPadding": -0.4, "padding": 0
    }
  }
}
